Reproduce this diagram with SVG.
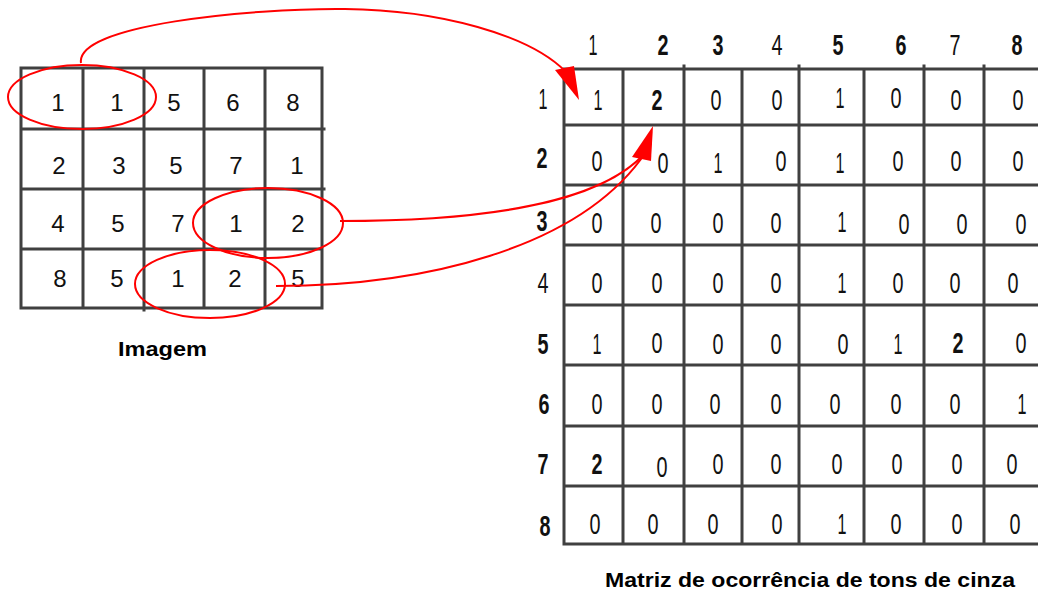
<svg xmlns="http://www.w3.org/2000/svg" width="1038" height="601" viewBox="0 0 1038 601">
<style>
.grid{stroke:#404040;stroke-width:3;fill:none;stroke-linecap:square}
.img{font-family:"Liberation Sans",Arial,sans-serif;font-size:24px;fill:#111;text-anchor:middle}
.m{font-family:"Liberation Sans",Arial,sans-serif;font-size:30px;fill:#111;text-anchor:middle}
.b{font-weight:bold}
.lbl{font-family:"Liberation Sans",Arial,sans-serif;font-weight:bold;font-size:20px;fill:#000}
.red{stroke:#ff0000;stroke-width:2;fill:none}
.head{fill:#ff0000;stroke:none}
</style>
<rect width="1038" height="601" fill="#fff"/>
<g id="imagem">
<path class="grid" d="M21 68H322V308H21Z M83 68V308 M144 68V310 M204 68V308 M265 68V308 M21 129H324 M21 189H324 M21 249H322"/>
<g class="img">
<text x="58" y="111">1</text><text x="117" y="111">1</text><text x="174" y="111">5</text><text x="233" y="111">6</text><text x="293" y="111">8</text>
<text x="59" y="174">2</text><text x="119" y="174">3</text><text x="176" y="174">5</text><text x="236" y="174">7</text><text x="297" y="174">1</text>
<text x="58" y="232">4</text><text x="118" y="232">5</text><text x="178" y="232">7</text><text x="236" y="232">1</text><text x="298" y="232">2</text>
<text x="60" y="287">8</text><text x="117" y="287">5</text><text x="178" y="287">1</text><text x="235" y="287">2</text><text x="298" y="287">5</text>
</g>
<text class="lbl" x="118" y="356" textLength="89" lengthAdjust="spacingAndGlyphs">Imagem</text>
</g>
<g id="matriz">
<path class="grid" d="M564 69V544 M623 69V544 M684 66V544 M742 69V544 M799 66V544 M864 69V544 M924 66V544 M984 66V544 M564 69H1038 M564 125H1038 M564 185H1038 M564 245H1038 M566 305H1038 M566 365H1038 M566 426H1038 M564 486H1038 M564 544H1038"/>
<g class="m">
<text x="593" y="55" textLength="9" lengthAdjust="spacingAndGlyphs">1</text>
<text class="b" x="663" y="55" textLength="11" lengthAdjust="spacingAndGlyphs">2</text>
<text class="b" x="718" y="55" textLength="11" lengthAdjust="spacingAndGlyphs">3</text>
<text x="777" y="55" textLength="11" lengthAdjust="spacingAndGlyphs">4</text>
<text class="b" x="838" y="55" textLength="11" lengthAdjust="spacingAndGlyphs">5</text>
<text class="b" x="901" y="55" textLength="11" lengthAdjust="spacingAndGlyphs">6</text>
<text x="955" y="55" textLength="11" lengthAdjust="spacingAndGlyphs">7</text>
<text class="b" x="1017" y="55" textLength="11" lengthAdjust="spacingAndGlyphs">8</text>

<text x="543" y="109" textLength="9" lengthAdjust="spacingAndGlyphs">1</text>
<text class="b" x="542" y="168" textLength="11" lengthAdjust="spacingAndGlyphs">2</text>
<text class="b" x="542" y="231" textLength="11" lengthAdjust="spacingAndGlyphs">3</text>
<text x="543" y="293" textLength="11" lengthAdjust="spacingAndGlyphs">4</text>
<text class="b" x="543" y="354" textLength="11" lengthAdjust="spacingAndGlyphs">5</text>
<text class="b" x="544" y="414" textLength="11" lengthAdjust="spacingAndGlyphs">6</text>
<text class="b" x="543" y="474" textLength="11" lengthAdjust="spacingAndGlyphs">7</text>
<text class="b" x="545" y="536" textLength="11" lengthAdjust="spacingAndGlyphs">8</text>
</g>
<g class="m">
<text x="598" y="110" textLength="9" lengthAdjust="spacingAndGlyphs">1</text>
<text class="b" x="657" y="110" textLength="11" lengthAdjust="spacingAndGlyphs">2</text>
<text x="716" y="110" textLength="11" lengthAdjust="spacingAndGlyphs">0</text>
<text x="777" y="110" textLength="11" lengthAdjust="spacingAndGlyphs">0</text>
<text x="840" y="108" textLength="9" lengthAdjust="spacingAndGlyphs">1</text>
<text x="896" y="108" textLength="11" lengthAdjust="spacingAndGlyphs">0</text>
<text x="956" y="110" textLength="11" lengthAdjust="spacingAndGlyphs">0</text>
<text x="1018" y="110" textLength="11" lengthAdjust="spacingAndGlyphs">0</text>

<text x="597" y="171" textLength="11" lengthAdjust="spacingAndGlyphs">0</text>
<text x="663" y="173" textLength="11" lengthAdjust="spacingAndGlyphs">0</text>
<text x="718" y="173" textLength="9" lengthAdjust="spacingAndGlyphs">1</text>
<text x="781" y="171" textLength="11" lengthAdjust="spacingAndGlyphs">0</text>
<text x="840" y="173" textLength="9" lengthAdjust="spacingAndGlyphs">1</text>
<text x="898" y="171" textLength="11" lengthAdjust="spacingAndGlyphs">0</text>
<text x="956" y="171" textLength="11" lengthAdjust="spacingAndGlyphs">0</text>
<text x="1018" y="171" textLength="11" lengthAdjust="spacingAndGlyphs">0</text>

<text x="597" y="233" textLength="11" lengthAdjust="spacingAndGlyphs">0</text>
<text x="656" y="233" textLength="11" lengthAdjust="spacingAndGlyphs">0</text>
<text x="718" y="233" textLength="11" lengthAdjust="spacingAndGlyphs">0</text>
<text x="776" y="233" textLength="11" lengthAdjust="spacingAndGlyphs">0</text>
<text x="842" y="232" textLength="9" lengthAdjust="spacingAndGlyphs">1</text>
<text x="904" y="234" textLength="11" lengthAdjust="spacingAndGlyphs">0</text>
<text x="962" y="234" textLength="11" lengthAdjust="spacingAndGlyphs">0</text>
<text x="1021" y="234" textLength="11" lengthAdjust="spacingAndGlyphs">0</text>

<text x="597" y="293" textLength="11" lengthAdjust="spacingAndGlyphs">0</text>
<text x="657" y="293" textLength="11" lengthAdjust="spacingAndGlyphs">0</text>
<text x="718" y="293" textLength="11" lengthAdjust="spacingAndGlyphs">0</text>
<text x="776" y="293" textLength="11" lengthAdjust="spacingAndGlyphs">0</text>
<text x="842" y="293" textLength="9" lengthAdjust="spacingAndGlyphs">1</text>
<text x="898" y="293" textLength="11" lengthAdjust="spacingAndGlyphs">0</text>
<text x="955" y="293" textLength="11" lengthAdjust="spacingAndGlyphs">0</text>
<text x="1013" y="293" textLength="11" lengthAdjust="spacingAndGlyphs">0</text>

<text x="597" y="354" textLength="9" lengthAdjust="spacingAndGlyphs">1</text>
<text x="657" y="353" textLength="11" lengthAdjust="spacingAndGlyphs">0</text>
<text x="718" y="354" textLength="11" lengthAdjust="spacingAndGlyphs">0</text>
<text x="776" y="354" textLength="11" lengthAdjust="spacingAndGlyphs">0</text>
<text x="843" y="354" textLength="11" lengthAdjust="spacingAndGlyphs">0</text>
<text x="898" y="354" textLength="9" lengthAdjust="spacingAndGlyphs">1</text>
<text class="b" x="958" y="353" textLength="11" lengthAdjust="spacingAndGlyphs">2</text>
<text x="1021" y="353" textLength="11" lengthAdjust="spacingAndGlyphs">0</text>

<text x="597" y="414" textLength="11" lengthAdjust="spacingAndGlyphs">0</text>
<text x="657" y="414" textLength="11" lengthAdjust="spacingAndGlyphs">0</text>
<text x="715" y="414" textLength="11" lengthAdjust="spacingAndGlyphs">0</text>
<text x="776" y="414" textLength="11" lengthAdjust="spacingAndGlyphs">0</text>
<text x="835" y="414" textLength="11" lengthAdjust="spacingAndGlyphs">0</text>
<text x="896" y="414" textLength="11" lengthAdjust="spacingAndGlyphs">0</text>
<text x="955" y="414" textLength="11" lengthAdjust="spacingAndGlyphs">0</text>
<text x="1022" y="414" textLength="9" lengthAdjust="spacingAndGlyphs">1</text>

<text class="b" x="597" y="474" textLength="11" lengthAdjust="spacingAndGlyphs">2</text>
<text x="662" y="477" textLength="11" lengthAdjust="spacingAndGlyphs">0</text>
<text x="718" y="474" textLength="11" lengthAdjust="spacingAndGlyphs">0</text>
<text x="776" y="474" textLength="11" lengthAdjust="spacingAndGlyphs">0</text>
<text x="837" y="474" textLength="11" lengthAdjust="spacingAndGlyphs">0</text>
<text x="897" y="474" textLength="11" lengthAdjust="spacingAndGlyphs">0</text>
<text x="957" y="474" textLength="11" lengthAdjust="spacingAndGlyphs">0</text>
<text x="1012" y="474" textLength="11" lengthAdjust="spacingAndGlyphs">0</text>

<text x="595" y="534" textLength="11" lengthAdjust="spacingAndGlyphs">0</text>
<text x="653" y="534" textLength="11" lengthAdjust="spacingAndGlyphs">0</text>
<text x="713" y="534" textLength="11" lengthAdjust="spacingAndGlyphs">0</text>
<text x="777" y="534" textLength="11" lengthAdjust="spacingAndGlyphs">0</text>
<text x="842" y="534" textLength="9" lengthAdjust="spacingAndGlyphs">1</text>
<text x="896" y="534" textLength="11" lengthAdjust="spacingAndGlyphs">0</text>
<text x="957" y="534" textLength="11" lengthAdjust="spacingAndGlyphs">0</text>
<text x="1015" y="534" textLength="11" lengthAdjust="spacingAndGlyphs">0</text>
</g>
<text class="lbl" x="605" y="587" textLength="410" lengthAdjust="spacingAndGlyphs">Matriz de ocorrência de tons de cinza</text>
</g>
<g id="connectors">
<ellipse class="red" cx="82" cy="97" rx="74" ry="32"/>
<ellipse class="red" cx="268" cy="223" rx="75" ry="35"/>
<ellipse class="red" cx="210" cy="284" rx="75" ry="34"/>
<path class="red" d="M81 63 C75 25 250 8 345 9 C440 10 530 35 566 72"/>
<polygon class="head" points="555,70 574,66 579,100"/>
<path class="red" d="M340 221 C480 221 600 205 646 152"/>
<path class="red" d="M276 286 C420 286 580 250 646 152"/>
<polygon class="head" points="632,157 653,126 651,161"/>
</g>
</svg>
